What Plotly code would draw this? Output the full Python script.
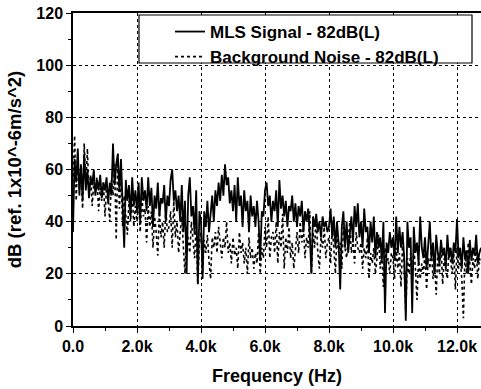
import plotly.graph_objects as go

freq_step_hz = 50
signal_db = [
    36, 64, 55, 68, 50, 62, 48, 66, 52, 60, 49, 57, 54, 60, 50, 56, 52, 58, 49, 55,
    52, 57, 47, 55, 50, 70, 54, 62, 66, 52, 64, 45, 30, 56, 48, 54, 42, 57, 46, 52,
    44, 55, 40, 57, 48, 52, 44, 57, 46, 53, 38, 50, 45, 55, 42, 49, 47, 54, 40, 50,
    46, 56, 60, 48, 52, 44, 50, 40, 54, 36, 48, 20, 50, 57, 42, 46, 35, 52, 16, 44,
    40, 18, 44, 38, 48, 36, 42, 50, 40, 52, 46, 55, 48, 58, 50, 62, 54, 57, 47, 52,
    44, 54, 40, 57, 46, 50, 38, 52, 44, 48, 36, 50, 42, 46, 38, 48, 40, 25, 44, 42,
    52, 55, 46, 50, 40, 48, 44, 52, 38, 56, 45, 50, 42, 48, 38, 46, 44, 50, 40, 47,
    38, 46, 42, 48, 36, 44, 40, 45, 35, 20, 42, 38, 43, 36, 40, 34, 42, 38, 40, 36,
    38, 45, 34, 42, 30, 40, 32, 14, 38, 44, 30, 40, 28, 36, 42, 32, 46, 38, 47, 34,
    40, 30, 45, 36, 38, 28, 40, 32, 42, 26, 36, 30, 34, 25, 40, 5, 32, 28, 36, 30,
    34, 25, 42, 28, 38, 30, 36, 26, 2, 40, 30, 34, 5, 38, 28, 32, 24, 42, 30, 26,
    34, 22, 30, 40, 26, 32, 20, 35, 28, 24, 33, 27, 30, 22, 35, 26, 30, 24, 32, 28,
    41, 26, 30, 22, 34, 26, 29, 20, 33, 25, 30, 27, 35, 24, 28, 30,
]
noise_db = [
    55, 73, 48, 66, 52, 60, 45, 70, 54, 68, 50, 58, 46, 55, 52, 57, 44, 53, 48, 55,
    42, 54, 48, 40, 56, 50, 62, 33, 66, 45, 58, 38, 50, 42, 35, 48, 40, 52, 38, 46,
    40, 48, 36, 50, 42, 45, 32, 46, 38, 44, 30, 42, 36, 27, 44, 34, 40, 30, 45, 36,
    38, 44, 30, 48, 34, 40, 28, 36, 42, 30, 20, 38, 32, 28, 40, 34, 26, 38, 16, 32,
    36, 20, 33, 28, 35, 25, 18, 34, 30, 36, 28, 38, 32, 26, 34, 30, 40, 28, 32, 24,
    34, 27, 30, 22, 36, 28, 32, 24, 30, 20, 34, 26, 30, 22, 28, 24, 36, 20, 30, 26,
    38, 30, 42, 26, 34, 36, 28, 40, 24, 36, 30, 43, 22, 34, 28, 38, 26, 32, 22, 30,
    36, 28, 40, 32, 38, 26, 34, 30, 44, 20, 36, 30, 42, 28, 22, 34, 30, 38, 26, 32,
    34, 24, 38, 30, 20, 36, 28, 32, 22, 38, 30, 26, 34, 40, 28, 32, 24, 36, 30, 28,
    32, 22, 30, 26, 34, 18, 28, 24, 30, 20, 26, 35, 22, 28, 15, 30, 24, 26, 20, 28,
    26, 18, 30, 22, 28, 15, 32, 24, 5, 26, 20, 28, 16, 30, 22, 10, 26, 18, 24, 20,
    28, 14, 26, 22, 30, 18, 24, 12, 28, 20, 32, 16, 26, 22, 18, 30, 24, 20, 28, 14,
    30, 22, 26, 18, 3, 28, 20, 32, 24, 16, 26, 22, 30, 18, 26, 24,
]
freq_hz = [i * freq_step_hz for i in range(len(signal_db))]

x_tick_vals = [0, 2000, 4000, 6000, 8000, 10000, 12000]
x_tick_text = ["0.0", "2.0k", "4.0k", "6.0k", "8.0k", "10.0k", "12.0k"]
y_tick_vals = [0, 20, 40, 60, 80, 100, 120]

series_names = ["MLS Signal - 82dB(L)", "Background Noise - 82dB(L)"]

font = "Liberation Sans, Arial, sans-serif"

fig = go.Figure()
fig.add_trace(go.Scatter(x=freq_hz, y=noise_db, mode="lines", name=series_names[1],
                         line=dict(color="black", width=1.6, dash="dot")))
fig.add_trace(go.Scatter(x=freq_hz, y=signal_db, mode="lines", name=series_names[0],
                         line=dict(color="black", width=1.8)))

fig.add_shape(type="rect", xref="paper", yref="paper",
              x0=(139 - 73) / 408, x1=(472 - 73) / 408,
              y0=(326 - 63) / 313, y1=(326 - 15) / 313,
              line=dict(color="black", width=1.2), fillcolor="white", layer="above")

fig.update_layout(
    width=481, height=389,
    margin=dict(l=73, r=0, t=13, b=63),
    paper_bgcolor="white", plot_bgcolor="white",
    font=dict(family=font, size=16, color="black"),
    showlegend=True,
    legend=dict(x=(170 - 73) / 408, y=(326 - 14) / 313, xanchor="left", yanchor="top",
                bgcolor="rgba(0,0,0,0)", borderwidth=0, traceorder="reversed",
                font=dict(family=font, size=17, color="black", weight="bold"),
                tracegroupgap=0),
    xaxis=dict(range=[0, 12750], tickvals=x_tick_vals, ticktext=x_tick_text,
               showline=True, linecolor="black", linewidth=1.5, mirror=True,
               ticks="outside", ticklen=5, tickwidth=1.2, tickcolor="black",
               showgrid=True, gridcolor="black", griddash="dot", gridwidth=1,
               zeroline=False,
               minor=dict(dtick=1000, tick0=0, ticks="outside", ticklen=3, tickcolor="black", showgrid=False),
               tickfont=dict(family=font, size=16, weight="bold"),
               title=dict(text="<b>Frequency (Hz)</b>", font=dict(family=font, size=18), standoff=15)),
    yaxis=dict(range=[0, 120], tickvals=y_tick_vals,
               showline=True, linecolor="black", linewidth=1.5, mirror=False,
               ticks="outside", ticklen=5, tickwidth=1.2, tickcolor="black",
               showgrid=True, gridcolor="black", griddash="dot", gridwidth=1,
               zeroline=False,
               minor=dict(dtick=10, tick0=0, ticks="outside", ticklen=3, tickcolor="black", showgrid=False),
               tickfont=dict(family=font, size=16, weight="bold"),
               title=dict(text="<b>dB (ref. 1x10^-6m/s^2)</b>", font=dict(family=font, size=18.5), standoff=10)),
)

fig.write_html("out.html")
